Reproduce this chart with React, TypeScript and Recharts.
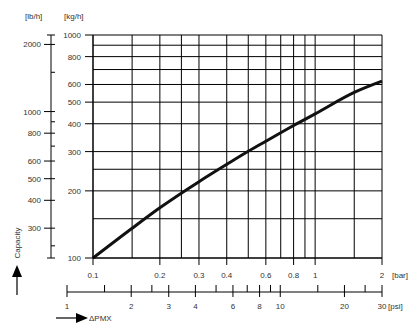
import React from 'react';
import { LineChart, Line, XAxis, YAxis, CartesianGrid } from 'recharts';

// curve: pressure drop [bar] -> capacity [kg/h]
const pressureBar = [0.1, 0.15, 0.2, 0.3, 0.4, 0.5, 0.6, 0.8, 1, 1.5, 2];
const capacityKgH = [100, 136, 168, 220, 263, 301, 334, 393, 443, 553, 621];

// axis ticks
const barGrid = [0.1, 0.15, 0.2, 0.25, 0.3, 0.4, 0.5, 0.6, 0.7, 0.8, 0.9, 1, 1.5, 2];
const barLabels = [0.1, 0.2, 0.3, 0.4, 0.6, 0.8, 1, 2];
const kgGrid = [100, 150, 200, 250, 300, 400, 500, 600, 700, 800, 900, 1000];
const kgLabels = [100, 200, 300, 400, 500, 600, 800, 1000];
const lbMajor = [300, 400, 500, 600, 800, 1000, 2000];
const lbMinor = [250, 700, 900, 1500];
const psiMajor = [1, 2, 3, 4, 6, 8, 10, 20, 30];
const psiMinor = [1.5, 2.5, 5, 7, 9, 15, 25];

const KG_TO_LB = 2.2046;
const lbDomain = [100 * KG_TO_LB, 1000 * KG_TO_LB];

const data = pressureBar.map((p, i) => ({ bar: p, kg: capacityKgH[i] }));

const FONT = '"Liberation Sans", Arial, sans-serif';
const TXT = '#333';

const KgTick = (props: any) => {
  const { x, y, payload } = props;
  if (!kgLabels.includes(payload.value)) return null;
  return (
    <g>
      <line x1={x - 8} y1={y} x2={x} y2={y} stroke="#000" />
      <text x={x - 12} y={y + 3} textAnchor="end" fontSize={8} fill={TXT} fontFamily={FONT}>
        {payload.value}
      </text>
    </g>
  );
};

const LbTick = (props: any) => {
  const { x, y, payload } = props;
  const v = payload.value;
  if (lbMajor.includes(v)) {
    return (
      <g>
        <line x1={x - 7} y1={y} x2={x + 4} y2={y} stroke="#000" />
        <text x={x - 10} y={y + 3} textAnchor="end" fontSize={8} fill={TXT} fontFamily={FONT}>
          {v}
        </text>
      </g>
    );
  }
  if (lbMinor.includes(v)) {
    return <line x1={x} y1={y} x2={x + 4} y2={y} stroke="#000" />;
  }
  // end caps
  return <line x1={x - 4} y1={y} x2={x + 4} y2={y} stroke="#000" />;
};

const BarTick = (props: any) => {
  const { x, y, payload } = props;
  if (!barLabels.includes(payload.value)) return null;
  return (
    <g>
      <line x1={x} y1={y} x2={x} y2={y + 7} stroke="#000" />
      <text x={x} y={y + 20} textAnchor="middle" fontSize={8} fill={TXT} fontFamily={FONT}>
        {payload.value}
      </text>
    </g>
  );
};

const PsiTick = (props: any) => {
  const { x, y, payload } = props;
  const v = payload.value;
  if (psiMinor.includes(v)) {
    return <line x1={x} y1={y - 7} x2={x} y2={y} stroke="#000" />;
  }
  return (
    <g>
      <line x1={x} y1={y - 7} x2={x} y2={y + 5} stroke="#000" />
      <text x={x} y={y + 17} textAnchor="middle" fontSize={8} fill={TXT} fontFamily={FONT}>
        {v}
      </text>
    </g>
  );
};

export default function App() {
  return (
    <div style={{ position: 'absolute', left: 0, top: 0, width: 417, height: 329, background: '#fff' }}>
      <div style={{ position: 'absolute', left: 0, top: 0 }}>
        <LineChart width={417} height={329} data={data} margin={{ top: 35, right: 35, bottom: 51, left: 0 }}>
          <CartesianGrid
            xAxisId="bar"
            yAxisId="kg"
            stroke="#000"
            strokeWidth={1}
            horizontalValues={kgGrid}
            verticalValues={barGrid}
          />
          <XAxis
            xAxisId="bar"
            dataKey="bar"
            type="number"
            scale="log"
            domain={[0.1, 2]}
            ticks={barGrid}
            interval={0}
            height={20}
            tickSize={0}
            tickMargin={0}
            tickLine={false}
            axisLine={{ stroke: '#000' }}
            tick={<BarTick />}
          />
          <YAxis
            yAxisId="kg"
            type="number"
            scale="log"
            domain={[100, 1000]}
            ticks={kgGrid}
            interval={0}
            width={42}
            tickSize={0}
            tickMargin={0}
            tickLine={false}
            axisLine={{ stroke: '#000' }}
            tick={<KgTick />}
          />
          <YAxis
            yAxisId="lb"
            type="number"
            scale="log"
            domain={lbDomain}
            allowDataOverflow
            ticks={[lbDomain[0], ...lbMinor, ...lbMajor, lbDomain[1]]}
            interval={0}
            width={51}
            tickSize={0}
            tickMargin={0}
            tickLine={false}
            axisLine={{ stroke: '#000' }}
            tick={<LbTick />}
          />
          <Line
            xAxisId="bar"
            yAxisId="kg"
            dataKey="kg"
            type="monotone"
            stroke="#111"
            strokeWidth={3}
            dot={false}
            isAnimationActive={false}
          />
        </LineChart>
      </div>
      <div style={{ position: 'absolute', left: 0, top: 0 }}>
        <LineChart width={417} height={329} data={[]} margin={{ top: 0, right: 35, bottom: 7, left: 67 }}>
          <XAxis
            dataKey="psi"
            type="number"
            scale="log"
            domain={[1, 30]}
            allowDataOverflow
            ticks={[...psiMajor, ...psiMinor]}
            interval={0}
            height={30}
            tickSize={0}
            tickMargin={0}
            tickLine={false}
            axisLine={{ stroke: '#000' }}
            tick={<PsiTick />}
          />
          <YAxis hide domain={[0, 1]} />
        </LineChart>
      </div>
      <svg style={{ position: 'absolute', left: 0, top: 0 }} width={417} height={329}>
        <g fontFamily={FONT} fontSize={8} fill={TXT}>
          <text x={25} y={19}>[lb/h]</text>
          <text x={64} y={19}>[kg/h]</text>
          <text x={392} y={278}>[bar]</text>
          <text x={388} y={309}>[psi]</text>
          <text x={89} y={321}>ΔPMX</text>
          <text x={20} y={243} textAnchor="middle" transform="rotate(-90 20 243)">Capacity</text>
        </g>
        <line x1={17} y1={276} x2={17} y2={295} stroke="#000" strokeWidth={1.2} />
        <polygon points="17,265 12,277 22,277" fill="#000" />
        <line x1={56} y1={318} x2={77} y2={318} stroke="#000" strokeWidth={1.2} />
        <polygon points="88,318 76,313 76,323" fill="#000" />
      </svg>
    </div>
  );
}
